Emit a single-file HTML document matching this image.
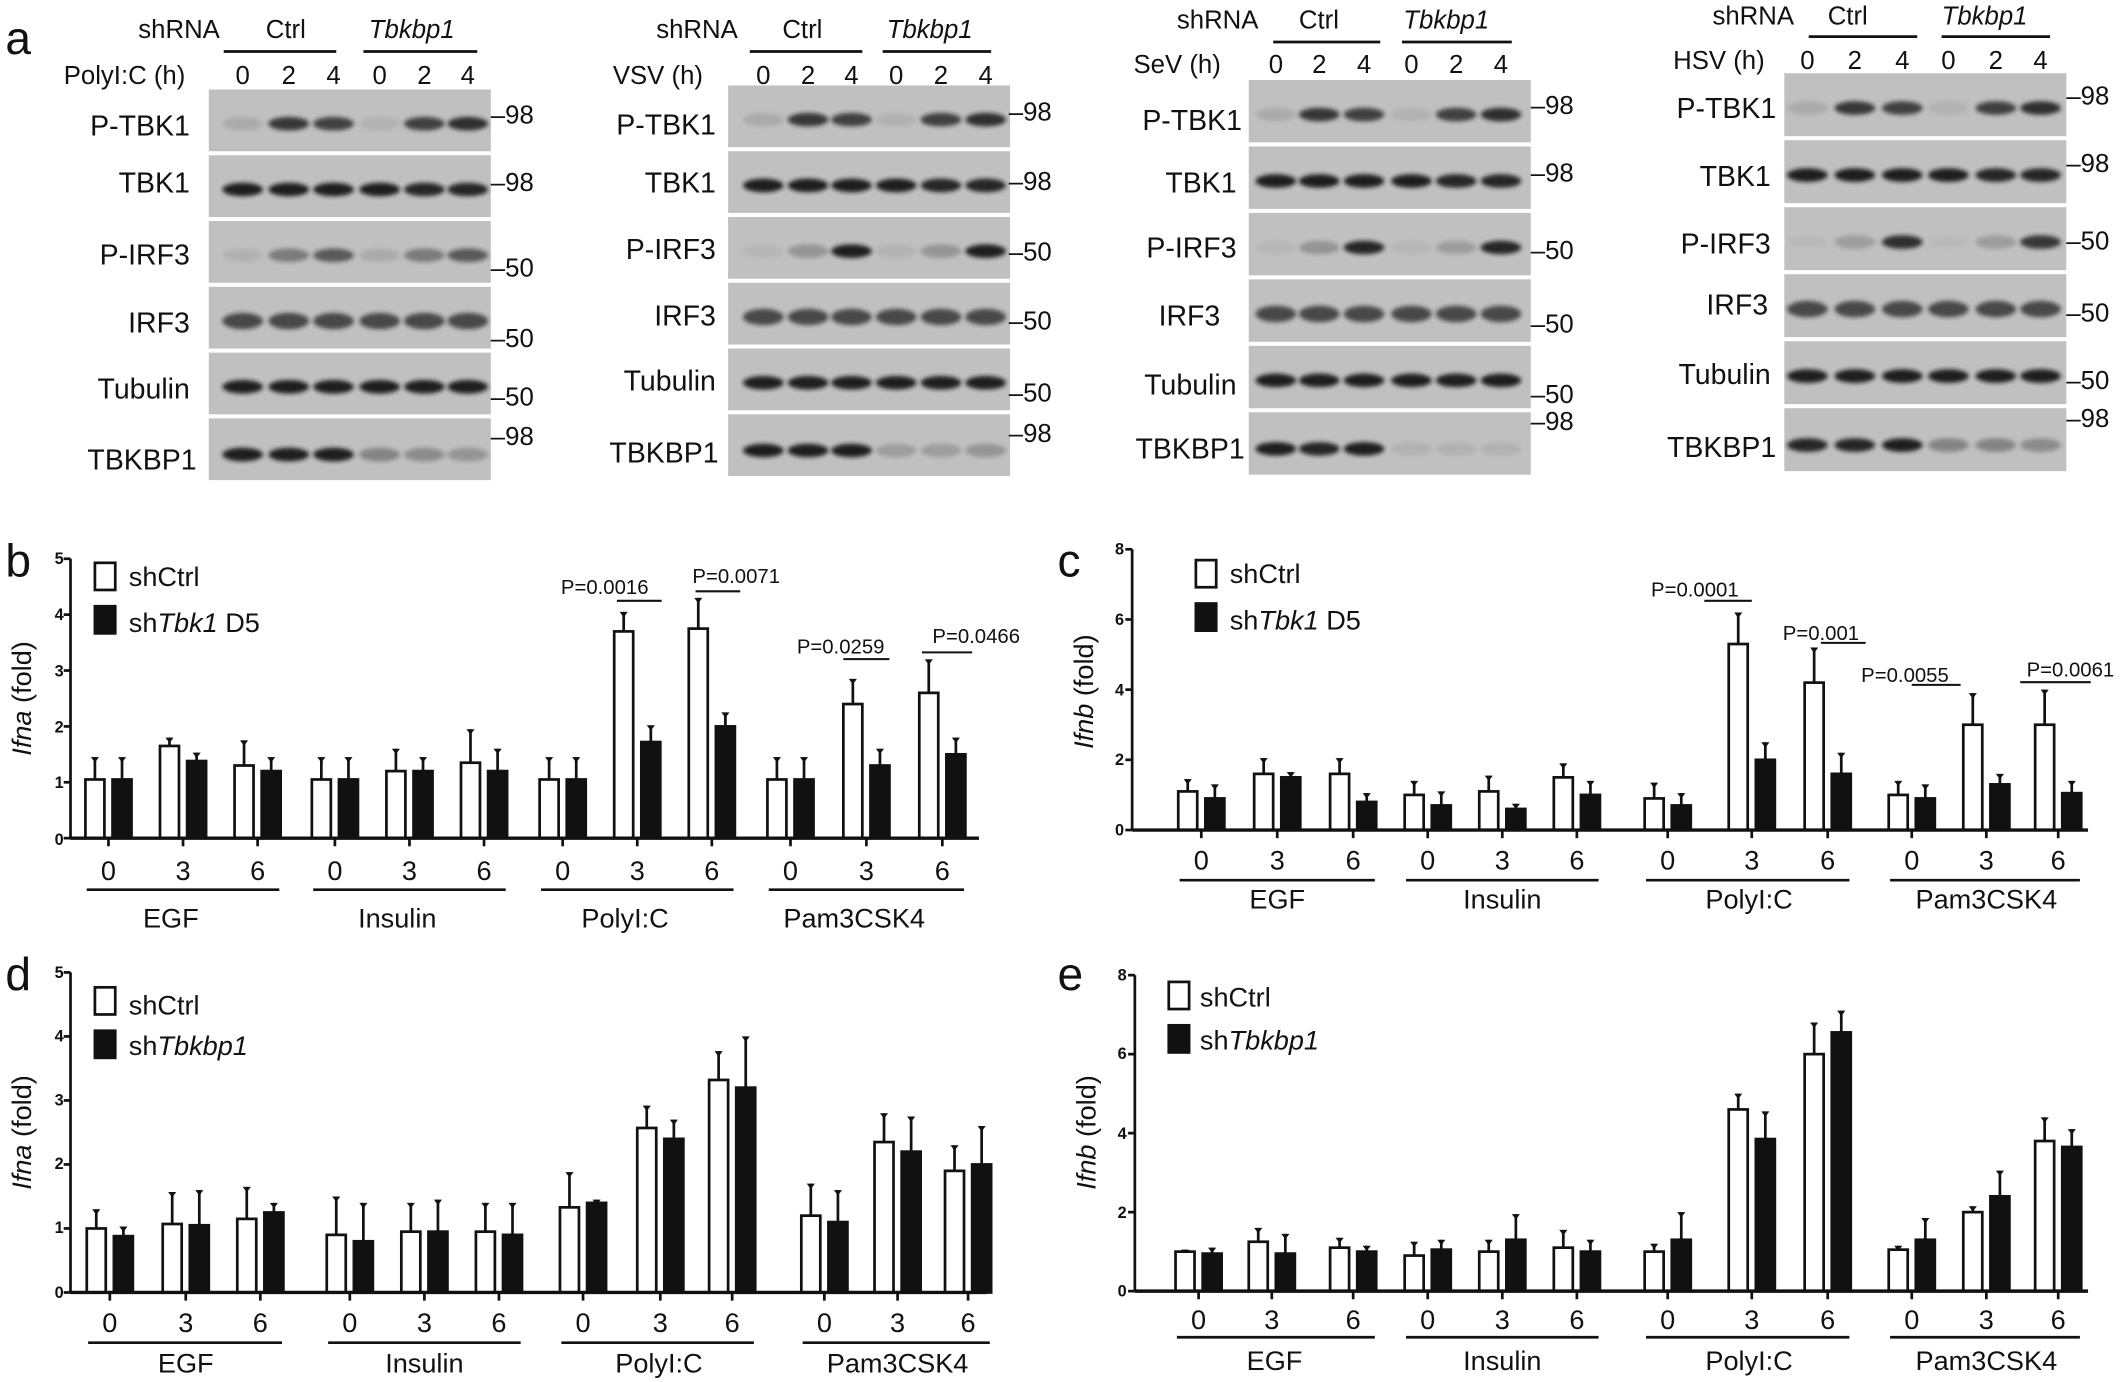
<!DOCTYPE html>
<html><head><meta charset="utf-8"><style>
html,body{margin:0;padding:0;background:#fff}
svg{display:block}
text{font-family:"Liberation Sans",sans-serif;fill:#111}
.h{font-size:19px}
.r{font-size:21px;text-anchor:end}
.m{font-size:19px}
.n{font-size:19px;text-anchor:middle}
.t{font-size:20px;text-anchor:middle}
.y{font-size:12px;font-weight:bold;text-anchor:end}
.c{font-size:20px;text-anchor:middle}
.p{font-size:15px;text-anchor:middle}
.l{font-size:20px}
</style></head><body>
<svg id="s" width="2126" height="1382" viewBox="0 0 1568 1019" preserveAspectRatio="none" xmlns="http://www.w3.org/2000/svg">
<defs><filter id="bl" x="-50%" y="-100%" width="200%" height="300%"><feGaussianBlur stdDeviation="1.6"/></filter></defs>
<rect width="1568" height="1019" fill="#fff"/>
<g id="g"></g>

<text x="4" y="40" font-size="34">a</text>
<text x="4" y="425" font-size="34">b</text>
<text x="780" y="425" font-size="34">c</text>
<text x="4" y="730" font-size="34">d</text>
<text x="780" y="730" font-size="34">e</text>

<!-- a1 -->
<text class="h" x="102" y="28">shRNA</text><text class="h" x="196" y="28">Ctrl</text><text class="h" x="272" y="28" font-style="italic">Tbkbp1</text>
<text class="h" x="47" y="62">PolyI:C (h)</text>
<text class="n" x="179" y="62">0</text><text class="n" x="213" y="62">2</text><text class="n" x="246" y="62">4</text><text class="n" x="280" y="62">0</text><text class="n" x="313" y="62">2</text><text class="n" x="345" y="62">4</text>
<text class="r" x="140" y="100">P-TBK1</text><text class="r" x="140" y="142">TBK1</text><text class="r" x="140" y="195">P-IRF3</text><text class="r" x="140" y="245">IRF3</text><text class="r" x="140" y="294">Tubulin</text><text class="r" x="145" y="346">TBKBP1</text>
<text class="m" x="362" y="91">–98</text><text class="m" x="362" y="141">–98</text><text class="m" x="362" y="204">–50</text><text class="m" x="362" y="256">–50</text><text class="m" x="362" y="299">–50</text><text class="m" x="362" y="328">–98</text>

<!-- a2 -->
<text class="h" x="484" y="28">shRNA</text><text class="h" x="577" y="28">Ctrl</text><text class="h" x="654" y="28" font-style="italic">Tbkbp1</text>
<text class="h" x="452" y="62">VSV (h)</text>
<text class="n" x="563" y="62">0</text><text class="n" x="596" y="62">2</text><text class="n" x="628" y="62">4</text><text class="n" x="661" y="62">0</text><text class="n" x="694" y="62">2</text><text class="n" x="727" y="62">4</text>
<text class="r" x="528" y="99">P-TBK1</text><text class="r" x="528" y="142">TBK1</text><text class="r" x="528" y="191">P-IRF3</text><text class="r" x="528" y="240">IRF3</text><text class="r" x="528" y="288">Tubulin</text><text class="r" x="530" y="341">TBKBP1</text>
<text class="m" x="744" y="89">–98</text><text class="m" x="744" y="140">–98</text><text class="m" x="744" y="192">–50</text><text class="m" x="744" y="243">–50</text><text class="m" x="744" y="296">–50</text><text class="m" x="744" y="326">–98</text>

<!-- a3 -->
<text class="h" x="868" y="21">shRNA</text><text class="h" x="958" y="21">Ctrl</text><text class="h" x="1035" y="21" font-style="italic">Tbkbp1</text>
<text class="h" x="836" y="54">SeV (h)</text>
<text class="n" x="941" y="54">0</text><text class="n" x="973" y="54">2</text><text class="n" x="1006" y="54">4</text><text class="n" x="1041" y="54">0</text><text class="n" x="1074" y="54">2</text><text class="n" x="1107" y="54">4</text>
<text class="r" x="916" y="96">P-TBK1</text><text class="r" x="912" y="142">TBK1</text><text class="r" x="912" y="190">P-IRF3</text><text class="r" x="900" y="240">IRF3</text><text class="r" x="912" y="291">Tubulin</text><text class="r" x="918" y="338">TBKBP1</text>
<text class="m" x="1129" y="84">–98</text><text class="m" x="1129" y="134">–98</text><text class="m" x="1129" y="191">–50</text><text class="m" x="1129" y="245">–50</text><text class="m" x="1129" y="297">–50</text><text class="m" x="1129" y="317">–98</text>

<!-- a4 -->
<text class="h" x="1263" y="18">shRNA</text><text class="h" x="1348" y="18">Ctrl</text><text class="h" x="1432" y="18" font-style="italic">Tbkbp1</text>
<text class="h" x="1234" y="51">HSV (h)</text>
<text class="n" x="1333" y="51">0</text><text class="n" x="1368" y="51">2</text><text class="n" x="1403" y="51">4</text><text class="n" x="1437" y="51">0</text><text class="n" x="1472" y="51">2</text><text class="n" x="1505" y="51">4</text>
<text class="r" x="1310" y="87">P-TBK1</text><text class="r" x="1306" y="137">TBK1</text><text class="r" x="1306" y="187">P-IRF3</text><text class="r" x="1304" y="232">IRF3</text><text class="r" x="1306" y="283">Tubulin</text><text class="r" x="1310" y="337">TBKBP1</text>
<text class="m" x="1524" y="77">–98</text><text class="m" x="1524" y="127">–98</text><text class="m" x="1524" y="184">–50</text><text class="m" x="1524" y="237">–50</text><text class="m" x="1524" y="287">–50</text><text class="m" x="1524" y="315">–98</text>

<!-- b -->
<text class="y" x="47" y="416">5</text><text class="y" x="47" y="457">4</text><text class="y" x="47" y="499">3</text><text class="y" x="47" y="540">2</text><text class="y" x="47" y="581">1</text><text class="y" x="47" y="623">0</text>
<text class="l" transform="translate(23,515) rotate(-90)" text-anchor="middle"><tspan font-style="italic">Ifna</tspan> (fold)</text>
<text class="l" x="95" y="432">shCtrl</text><text class="l" x="95" y="466">sh<tspan font-style="italic">Tbk1</tspan> D5</text>
<text class="t" x="80" y="649">0</text><text class="t" x="135" y="649">3</text><text class="t" x="190" y="649">6</text>
<text class="t" x="247" y="649">0</text><text class="t" x="302" y="649">3</text><text class="t" x="357" y="649">6</text>
<text class="t" x="415" y="649">0</text><text class="t" x="470" y="649">3</text><text class="t" x="525" y="649">6</text>
<text class="t" x="583" y="649">0</text><text class="t" x="639" y="649">3</text><text class="t" x="695" y="649">6</text>
<text class="c" x="126" y="684">EGF</text><text class="c" x="293" y="684">Insulin</text><text class="c" x="461" y="684">PolyI:C</text><text class="c" x="630" y="684">Pam3CSK4</text>
<text class="p" x="446" y="438">P=0.0016</text><text class="p" x="543" y="430">P=0.0071</text><text class="p" x="620" y="482">P=0.0259</text><text class="p" x="720" y="474">P=0.0466</text>

<!-- c -->
<text class="y" x="829" y="409">8</text><text class="y" x="829" y="461">6</text><text class="y" x="829" y="513">4</text><text class="y" x="829" y="564">2</text><text class="y" x="829" y="616">0</text>
<text class="l" transform="translate(806,510) rotate(-90)" text-anchor="middle"><tspan font-style="italic">Ifnb</tspan> (fold)</text>
<text class="l" x="907" y="430">shCtrl</text><text class="l" x="907" y="464">sh<tspan font-style="italic">Tbk1</tspan> D5</text>
<text class="t" x="886" y="641">0</text><text class="t" x="942" y="641">3</text><text class="t" x="998" y="641">6</text>
<text class="t" x="1053" y="641">0</text><text class="t" x="1108" y="641">3</text><text class="t" x="1163" y="641">6</text>
<text class="t" x="1230" y="641">0</text><text class="t" x="1292" y="641">3</text><text class="t" x="1348" y="641">6</text>
<text class="t" x="1410" y="641">0</text><text class="t" x="1465" y="641">3</text><text class="t" x="1518" y="641">6</text>
<text class="c" x="942" y="670">EGF</text><text class="c" x="1108" y="670">Insulin</text><text class="c" x="1290" y="670">PolyI:C</text><text class="c" x="1465" y="670">Pam3CSK4</text>
<text class="p" x="1250" y="440">P=0.0001</text><text class="p" x="1343" y="472">P=0.001</text><text class="p" x="1405" y="503">P=0.0055</text><text class="p" x="1527" y="499">P=0.0061</text>

<!-- d -->
<text class="y" x="47" y="721">5</text><text class="y" x="47" y="768">4</text><text class="y" x="47" y="815">3</text><text class="y" x="47" y="862">2</text><text class="y" x="47" y="909">1</text><text class="y" x="47" y="957">0</text>
<text class="l" transform="translate(23,835) rotate(-90)" text-anchor="middle"><tspan font-style="italic">Ifna</tspan> (fold)</text>
<text class="l" x="95" y="748">shCtrl</text><text class="l" x="95" y="778">sh<tspan font-style="italic">Tbkbp1</tspan></text>
<text class="t" x="81" y="982">0</text><text class="t" x="137" y="982">3</text><text class="t" x="192" y="982">6</text>
<text class="t" x="258" y="982">0</text><text class="t" x="313" y="982">3</text><text class="t" x="368" y="982">6</text>
<text class="t" x="430" y="982">0</text><text class="t" x="487" y="982">3</text><text class="t" x="540" y="982">6</text>
<text class="t" x="608" y="982">0</text><text class="t" x="662" y="982">3</text><text class="t" x="714" y="982">6</text>
<text class="c" x="137" y="1012">EGF</text><text class="c" x="313" y="1012">Insulin</text><text class="c" x="486" y="1012">PolyI:C</text><text class="c" x="662" y="1012">Pam3CSK4</text>

<!-- e -->
<text class="y" x="831" y="723">8</text><text class="y" x="831" y="781">6</text><text class="y" x="831" y="840">4</text><text class="y" x="831" y="898">2</text><text class="y" x="831" y="956">0</text>
<text class="l" transform="translate(808,835) rotate(-90)" text-anchor="middle"><tspan font-style="italic">Ifnb</tspan> (fold)</text>
<text class="l" x="885" y="742">shCtrl</text><text class="l" x="885" y="774">sh<tspan font-style="italic">Tbkbp1</tspan></text>
<text class="t" x="884" y="980">0</text><text class="t" x="938" y="980">3</text><text class="t" x="998" y="980">6</text>
<text class="t" x="1053" y="980">0</text><text class="t" x="1108" y="980">3</text><text class="t" x="1163" y="980">6</text>
<text class="t" x="1230" y="980">0</text><text class="t" x="1292" y="980">3</text><text class="t" x="1348" y="980">6</text>
<text class="t" x="1410" y="980">0</text><text class="t" x="1465" y="980">3</text><text class="t" x="1518" y="980">6</text>
<text class="c" x="940" y="1010">EGF</text><text class="c" x="1108" y="1010">Insulin</text><text class="c" x="1290" y="1010">PolyI:C</text><text class="c" x="1465" y="1010">Pam3CSK4</text>
</svg>
<script>
var g=document.getElementById('g'),NS='http://www.w3.org/2000/svg';
function E(t,a){var e=document.createElementNS(NS,t);for(var k in a)e.setAttribute(k,a[k]);g.appendChild(e);return e;}
function L(x1,y1,x2,y2,w){E('line',{x1:x1,y1:y1,x2:x2,y2:y2,stroke:'#111','stroke-width':w||1.5});}
function R(x,y,w,h,f,s){E('rect',{x:x,y:y,width:w,height:h,fill:f,stroke:s||'none','stroke-width':2});}
var rowsI=[[.12,.8,.75,.08,.75,.85],[.95,.95,.95,.95,.9,.9],[.08,.4,.6,.12,.4,.6],[.7,.7,.7,.7,.7,.7],[.95,.95,.95,.95,.95,.95],[.95,.95,.95,.35,.3,.25]];
function blot(x0,top,pitch,lanes,hdrY,l1,l2,pirf,kbp){
  for(var r=0;r<6;r++){var y=top+r*pitch;R(x0,y,208,pitch-3,'#c0c0c0');
    for(var i=0;i<6;i++){var v=rowsI[r][i];if(r==2&&pirf)v=pirf[i];if(r==5&&kbp)v=kbp[i];
      var cy=y+pitch*0.52;if(r==5)cy=y+pitch*0.55;
      E('ellipse',{cx:lanes[i],cy:cy,rx:15,ry:r==3?6:5,fill:'#151515',opacity:v,filter:'url(#bl)'});}}
  L(l1[0],hdrY,l1[1],hdrY,2);L(l2[0],hdrY,l2[1],hdrY,2);
}
blot(154,66,48.5,[179,213,246,280,313,345],38,[165,248],[268,352]);
blot(537,63,48.5,[563,596,628,661,694,727],38,[553,636],[651,731],[.05,.25,.95,.08,.25,.95],[.95,.95,.95,.2,.2,.25]);
blot(921,59,49,[941,973,1006,1041,1074,1107],31,[939,1018],[1034,1115],[.05,.25,.9,.05,.2,.9],[.95,.9,.95,.08,.08,.08]);
blot(1316,54,49.4,[1333,1368,1403,1437,1472,1505],27,[1334,1414],[1432,1512],[.03,.2,.85,.03,.2,.8],[.9,.9,.95,.35,.35,.3]);
function chart(c){
  var ax=c.ax,y0=c.y0,s=(y0-c.yt)/c.max;
  L(ax,y0,ax,c.yt,2);
  for(var v=0;v<=c.max;v+=c.step)L(ax-5,y0-v*s,ax,y0-v*s,2);
  for(var i=0;i<12;i++){
    var xw=c.xs[i]-10,xb=c.xs[i]+10;
    [[xw,c.w[i],c.ew[i],'#fff'],[xb,c.b[i],c.eb[i],'#111']].forEach(function(q){
      var top=y0-q[1]*s,et=top-q[2]*s;
      L(q[0],top,q[0],et,2);E('polygon',{points:(q[0]-3)+','+et+' '+(q[0]+3)+','+et+' '+q[0]+','+(et+4),fill:'#111'});
      R(q[0]-7,top,14,y0-top,q[3],'#111');});
    L(c.xs[i],y0,c.xs[i],y0+6,2);
  }
  L(ax,y0,c.xe,y0,2.5);
  for(var k=0;k<4;k++)L(c.xs[k*3]-16,c.ly,c.xs[k*3+2]+16,c.ly,2);
  (c.pl||[]).forEach(function(p){L(p[0],p[2],p[1],p[2],1.5);});
  R(c.lx,c.lg,15,20,'#fff','#111');R(c.lx,c.lg+32,15,20,'#111','#111');
}
chart({ax:52,y0:618,yt:412,max:5,step:1,xe:722,ly:656,lx:70,lg:415,
 xs:[80,135,190,247,302,357,415,470,525,583,639,695],
 w:[1.05,1.65,1.3,1.05,1.2,1.35,1.05,3.7,3.75,1.05,2.4,2.6],ew:[.4,.15,.45,.4,.4,.6,.4,.35,.55,.4,.45,.6],
 b:[1.05,1.38,1.2,1.05,1.2,1.2,1.05,1.72,2.0,1.05,1.3,1.5],eb:[.4,.15,.25,.4,.25,.4,.4,.3,.25,.4,.3,.3],
 pl:[[455,488,443],[513,546,436],[622,656,486],[680,717,481]]});
chart({ax:835,y0:612,yt:405,max:8,step:2,xe:1540,ly:649,lx:882,lg:413,
 xs:[886,942,998,1053,1108,1163,1230,1292,1348,1410,1465,1518],
 w:[1.1,1.6,1.6,1.0,1.1,1.5,0.9,5.3,4.2,1.0,3.0,3.0],ew:[.35,.45,.45,.4,.45,.4,.45,.9,1.0,.4,.9,1.0],
 b:[0.9,1.5,0.8,0.7,0.6,1.0,0.7,2.0,1.6,0.9,1.3,1.05],eb:[.4,.15,.25,.4,.15,.4,.35,.5,.6,.4,.3,.35],
 pl:[[1257,1292,443],[1343,1376,474],[1410,1446,505],[1490,1542,503]]});
chart({ax:52,y0:953,yt:717,max:5,step:1,xe:728,ly:990,lx:70,lg:728,
 xs:[81,137,192,258,313,368,430,487,540,608,662,714],
 w:[1.0,1.07,1.15,0.9,0.95,0.95,1.33,2.57,3.32,1.2,2.35,1.9],ew:[.3,.5,.5,.6,.45,.45,.55,.35,.45,.5,.45,.4],
 b:[0.88,1.05,1.25,0.8,0.95,0.9,1.4,2.4,3.2,1.1,2.2,2.0],eb:[.15,.55,.15,.6,.5,.5,.05,.3,.8,.5,.55,.6]});
chart({ax:837,y0:952,yt:719,max:8,step:2,xe:1540,ly:986,lx:862,lg:724,
 xs:[884,938,998,1053,1108,1163,1230,1292,1348,1410,1465,1518],
 w:[1.0,1.25,1.1,0.9,1.0,1.1,1.0,4.6,6.0,1.05,2.0,3.8],ew:[.05,.35,.25,.35,.3,.45,.2,.4,.8,.1,.15,.6],
 b:[0.95,0.95,1.0,1.05,1.3,1.0,1.3,3.85,6.55,1.3,2.4,3.65],eb:[.15,.5,.15,.25,.65,.3,.7,.7,.55,.55,.65,.45]});
</script>
</body></html>
